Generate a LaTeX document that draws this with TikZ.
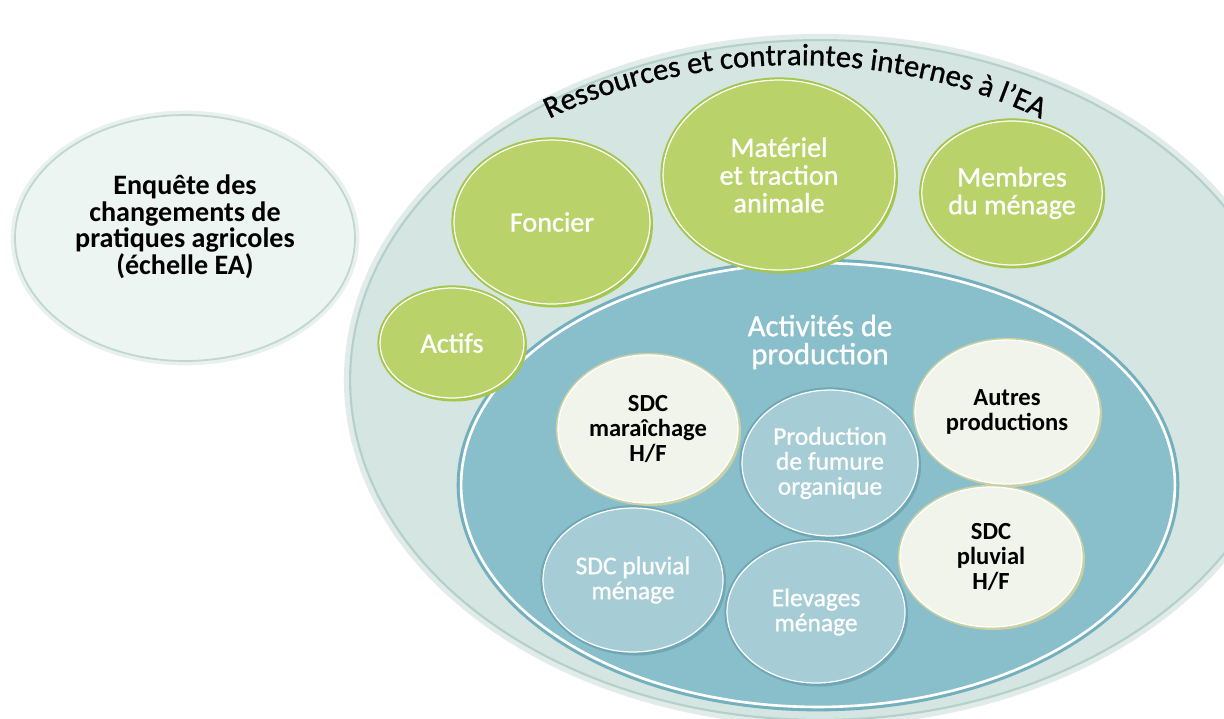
\documentclass[tikz,border=0pt]{standalone}
\usepackage{fontspec}
\setmainfont{Carlito}
\newfontfamily\epais{Carlito}[FakeBold=0.9]
\usetikzlibrary{shapes.geometric,decorations.text}
\definecolor{enqfond}{HTML}{EDF5F2}
\definecolor{enqbord}{HTML}{BFD7CF}
\definecolor{ressfond}{HTML}{D4E5E2}
\definecolor{ressbord}{HTML}{B4D0CA}
\definecolor{prodfond}{HTML}{89BFCB}
\definecolor{prodbord}{HTML}{74AFBD}
\definecolor{vertfond}{HTML}{B9D36A}
\definecolor{vertbord}{HTML}{A5C64D}
\definecolor{cremefond}{HTML}{F1F4EB}
\definecolor{cremebord}{HTML}{C9D0A2}
\definecolor{bleufond}{HTML}{A6CDD6}
\definecolor{bleubord}{HTML}{6FA7B5}
\begin{document}
\begin{tikzpicture}[x=0.02cm, y=0.02cm,
  bulle/.style={ellipse, inner sep=0pt, align=center},
  verte/.style={bulle, fill=vertfond, draw=white, line width=0.7pt,
    preaction={draw=vertbord, line width=1pt, transform canvas={shift={(1.2pt,-1.5pt)}}},
    preaction={draw=vertbord, line width=3pt}, text=white,
    font=\epais\fontsize{16}{15.8}\selectfont},
  creme/.style={bulle, fill=cremefond, draw=white, line width=0.7pt,
    preaction={draw=cremebord, line width=1pt, transform canvas={shift={(1.2pt,-1.2pt)}}},
    preaction={draw=cremebord, line width=2.5pt},
    font=\bfseries\fontsize{14}{14.2}\selectfont},
  bleue/.style={bulle, fill=bleufond, draw=white, line width=0.7pt,
    preaction={draw=bleubord, line width=1pt, transform canvas={shift={(1.2pt,-1.5pt)}}},
    preaction={draw=bleubord, line width=3pt}, text=white,
    font=\epais\fontsize{14.5}{14.2}\selectfont}]
\clip (0,0) rectangle (1224,-718);
\fill[white] (0,0) rectangle (1224,-718);
\node[bulle, fill=enqfond, draw=enqbord, line width=1pt,
  preaction={draw=enqbord!35, line width=5pt},
  minimum width=6.8cm, minimum height=4.92cm,
  font=\bfseries\fontsize{16}{15.2}\selectfont] (enquete) at (185,-238)
  {Enquête des\\changements de\\pratiques agricoles\\(échelle EA)\\ };
\node[bulle, fill=ressfond, draw=ressbord, line width=1.2pt,
  preaction={draw=ressbord!40, line width=7pt},
  minimum width=18.8cm, minimum height=13.6cm] (ressources) at (820,-380) {};
\path[decorate, decoration={text along path, text align=center,
  text={|\epais\fontsize{17.5}{17}\selectfont|Ressources et contraintes internes à l’EA}}]
  (490.9,-152.9) arc[start angle=135, end angle=45, x radius=8.6cm, y radius=6cm];
\node[bulle, fill=prodfond, draw=white, line width=1.5pt,
  preaction={draw=prodbord, line width=5pt},
  minimum width=14.28cm, minimum height=8.88cm] (activites) at (818,-485) {};
\node[text=white, align=center, font=\epais\fontsize{17.5}{16}\selectfont] (titreprod)
  at (820,-342) {Activités de\\production};
\node[verte, minimum width=2.88cm, minimum height=2.2cm] (actifs) at (452,-343) {Actifs};
\node[verte, minimum width=3.92cm, minimum height=3.28cm] (foncier) at (552,-222) {Foncier};
\node[verte, minimum width=4.64cm, minimum height=3.8cm] (materiel) at (779,-175)
  {Matériel\\et traction\\animale};
\node[verte, minimum width=3.6cm, minimum height=2.88cm] (membres) at (1012,-193)
  {Membres\\du ménage};
\node[creme, minimum width=3.6cm, minimum height=2.96cm] (maraichage) at (648,-429)
  {SDC\\maraîchage\\H/F};
\node[bleue, minimum width=3.52cm, minimum height=2.92cm] (fumure) at (830,-463)
  {Production\\de fumure\\organique};
\node[bleue, minimum width=3.6cm, minimum height=2.88cm] (pluvialmen) at (633,-580)
  {SDC pluvial\\ménage};
\node[bleue, minimum width=3.56cm, minimum height=2.84cm] (elevages) at (816,-612)
  {Elevages\\ménage};
\node[creme, minimum width=3.68cm, minimum height=2.88cm] (autres) at (1007,-412)
  {Autres\\productions};
\node[creme, minimum width=3.64cm, minimum height=2.8cm] (pluvialhf) at (991,-557)
  {SDC\\pluvial\\H/F};
\end{tikzpicture}
\end{document}
